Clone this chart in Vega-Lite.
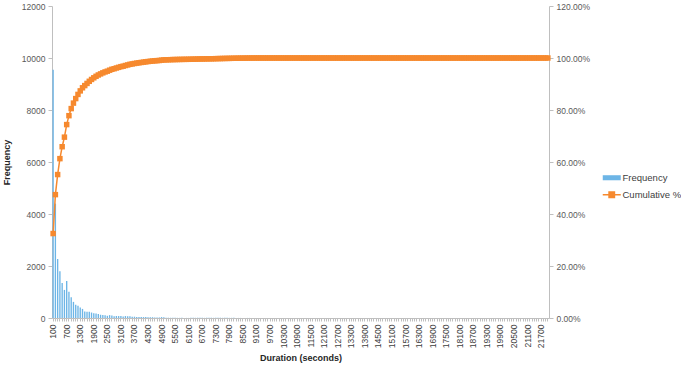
{
  "$schema": "https://vega.github.io/schema/vega-lite/v6.json",
  "width": 497,
  "height": 312,
  "autosize": {"type": "none"},
  "padding": {"left": 52, "top": 6, "right": 132, "bottom": 51},
  "background": "white",
  "config": {
    "view": {"stroke": null},
    "font": "Liberation Sans",
    "axis": {"labelColor": "#595959", "titleColor": "#262626", "domainColor": "#BFBFBF", "tickColor": "#BFBFBF", "grid": false, "labelFontSize": 8.5, "titleFontSize": 9, "titleFontWeight": "bold"},
    "legend": {"labelFontSize": 9.5, "labelColor": "#404040", "symbolSize": 324, "rowPadding": 6, "labelOffset": 6}
  },
  "data": {"values": [
    {"d":100,"f":9550,"c":0.3248},{"d":200,"f":4400,"c":0.4745},{"d":300,"f":2270,"c":0.5517},{"d":400,"f":1800,"c":0.6129},{"d":500,"f":1350,"c":0.6588},
    {"d":600,"f":1080,"c":0.6956},{"d":700,"f":1420,"c":0.7439},{"d":800,"f":1010,"c":0.7782},{"d":900,"f":800,"c":0.8054},{"d":1000,"f":620,"c":0.8265},
    {"d":1100,"f":510,"c":0.8439},{"d":1200,"f":470,"c":0.8599},{"d":1300,"f":400,"c":0.8735},{"d":1400,"f":350,"c":0.8854},{"d":1500,"f":250,"c":0.8939},
    {"d":1600,"f":245,"c":0.9022},{"d":1700,"f":240,"c":0.9104},{"d":1800,"f":210,"c":0.9175},{"d":1900,"f":185,"c":0.9238},{"d":2000,"f":170,"c":0.9296},
    {"d":2100,"f":150,"c":0.9347},{"d":2200,"f":125,"c":0.9389},{"d":2300,"f":115,"c":0.9429},{"d":2400,"f":105,"c":0.9464},{"d":2500,"f":85,"c":0.9493},
    {"d":2600,"f":110,"c":0.9531},{"d":2700,"f":100,"c":0.9565},{"d":2800,"f":70,"c":0.9588},{"d":2900,"f":80,"c":0.9616},{"d":3000,"f":75,"c":0.9641},
    {"d":3100,"f":75,"c":0.9667},{"d":3200,"f":55,"c":0.9685},{"d":3300,"f":75,"c":0.9711},{"d":3400,"f":65,"c":0.9733},{"d":3500,"f":70,"c":0.9757},
    {"d":3600,"f":45,"c":0.9772},{"d":3700,"f":50,"c":0.9789},{"d":3800,"f":40,"c":0.9803},{"d":3900,"f":40,"c":0.9816},{"d":4000,"f":38,"c":0.9829},
    {"d":4100,"f":36,"c":0.9841},{"d":4200,"f":34,"c":0.9853},{"d":4300,"f":32,"c":0.9864},{"d":4400,"f":30,"c":0.9874},{"d":4500,"f":30,"c":0.9884},
    {"d":4600,"f":22,"c":0.9892},{"d":4700,"f":20,"c":0.9899},{"d":4800,"f":20,"c":0.9905},{"d":4900,"f":35,"c":0.9917},{"d":5000,"f":25,"c":0.9926},
    {"d":5100,"f":12,"c":0.9930},{"d":5200,"f":10,"c":0.9933},{"d":5300,"f":8,"c":0.9936},{"d":5400,"f":8,"c":0.9939},{"d":5500,"f":6,"c":0.9941},
    {"d":5600,"f":6,"c":0.9943},{"d":5700,"f":5,"c":0.9945},{"d":5800,"f":5,"c":0.9946},{"d":5900,"f":4,"c":0.9948},{"d":6000,"f":4,"c":0.9949},
    {"d":6100,"f":3,"c":0.9950},{"d":6200,"f":8,"c":0.9953},{"d":6300,"f":7,"c":0.9955},{"d":6400,"f":7,"c":0.9957},{"d":6500,"f":6,"c":0.9960},
    {"d":6600,"f":6,"c":0.9962},{"d":6700,"f":6,"c":0.9964},{"d":6800,"f":5,"c":0.9965},{"d":6900,"f":5,"c":0.9967},{"d":7000,"f":5,"c":0.9969},
    {"d":7100,"f":5,"c":0.9970},{"d":7200,"f":6,"c":0.9972},{"d":7300,"f":7,"c":0.9975},{"d":7400,"f":6,"c":0.9977},{"d":7500,"f":7,"c":0.9979},
    {"d":7600,"f":6,"c":0.9981},{"d":7700,"f":5,"c":0.9983},{"d":7800,"f":5,"c":0.9985},{"d":7900,"f":5,"c":0.9986},{"d":8000,"f":6,"c":0.9988},
    {"d":8100,"f":5,"c":0.9990},{"d":8200,"f":4,"c":0.9991},{"d":8300,"f":3,"c":0.9993},{"d":8400,"f":3,"c":0.9994},{"d":8500,"f":3,"c":0.9995},
    {"d":8600,"f":4,"c":0.9996},{"d":8700,"f":3,"c":0.9997},{"d":8800,"f":3,"c":0.9998},{"d":8900,"f":3,"c":0.9999},{"d":9000,"f":3,"c":1.0},
    {"d":9100,"f":0,"c":1.0},{"d":9200,"f":0,"c":1.0},{"d":9300,"f":0,"c":1.0},{"d":9400,"f":0,"c":1.0},{"d":9500,"f":0,"c":1.0},
    {"d":9600,"f":0,"c":1.0},{"d":9700,"f":0,"c":1.0},{"d":9800,"f":0,"c":1.0},{"d":9900,"f":0,"c":1.0},{"d":10000,"f":0,"c":1.0},
    {"d":10100,"f":0,"c":1.0},{"d":10200,"f":0,"c":1.0},{"d":10300,"f":0,"c":1.0},{"d":10400,"f":0,"c":1.0},{"d":10500,"f":0,"c":1.0},
    {"d":10600,"f":0,"c":1.0},{"d":10700,"f":0,"c":1.0},{"d":10800,"f":0,"c":1.0},{"d":10900,"f":0,"c":1.0},{"d":11000,"f":0,"c":1.0},
    {"d":11100,"f":0,"c":1.0},{"d":11200,"f":0,"c":1.0},{"d":11300,"f":0,"c":1.0},{"d":11400,"f":0,"c":1.0},{"d":11500,"f":0,"c":1.0},
    {"d":11600,"f":0,"c":1.0},{"d":11700,"f":0,"c":1.0},{"d":11800,"f":0,"c":1.0},{"d":11900,"f":0,"c":1.0},{"d":12000,"f":0,"c":1.0},
    {"d":12100,"f":0,"c":1.0},{"d":12200,"f":0,"c":1.0},{"d":12300,"f":0,"c":1.0},{"d":12400,"f":0,"c":1.0},{"d":12500,"f":0,"c":1.0},
    {"d":12600,"f":0,"c":1.0},{"d":12700,"f":0,"c":1.0},{"d":12800,"f":0,"c":1.0},{"d":12900,"f":0,"c":1.0},{"d":13000,"f":0,"c":1.0},
    {"d":13100,"f":0,"c":1.0},{"d":13200,"f":0,"c":1.0},{"d":13300,"f":0,"c":1.0},{"d":13400,"f":0,"c":1.0},{"d":13500,"f":0,"c":1.0},
    {"d":13600,"f":0,"c":1.0},{"d":13700,"f":0,"c":1.0},{"d":13800,"f":0,"c":1.0},{"d":13900,"f":0,"c":1.0},{"d":14000,"f":0,"c":1.0},
    {"d":14100,"f":0,"c":1.0},{"d":14200,"f":0,"c":1.0},{"d":14300,"f":0,"c":1.0},{"d":14400,"f":0,"c":1.0},{"d":14500,"f":0,"c":1.0},
    {"d":14600,"f":0,"c":1.0},{"d":14700,"f":0,"c":1.0},{"d":14800,"f":0,"c":1.0},{"d":14900,"f":0,"c":1.0},{"d":15000,"f":0,"c":1.0},
    {"d":15100,"f":0,"c":1.0},{"d":15200,"f":0,"c":1.0},{"d":15300,"f":0,"c":1.0},{"d":15400,"f":0,"c":1.0},{"d":15500,"f":0,"c":1.0},
    {"d":15600,"f":0,"c":1.0},{"d":15700,"f":0,"c":1.0},{"d":15800,"f":0,"c":1.0},{"d":15900,"f":0,"c":1.0},{"d":16000,"f":0,"c":1.0},
    {"d":16100,"f":0,"c":1.0},{"d":16200,"f":0,"c":1.0},{"d":16300,"f":0,"c":1.0},{"d":16400,"f":0,"c":1.0},{"d":16500,"f":0,"c":1.0},
    {"d":16600,"f":0,"c":1.0},{"d":16700,"f":0,"c":1.0},{"d":16800,"f":0,"c":1.0},{"d":16900,"f":0,"c":1.0},{"d":17000,"f":0,"c":1.0},
    {"d":17100,"f":0,"c":1.0},{"d":17200,"f":0,"c":1.0},{"d":17300,"f":0,"c":1.0},{"d":17400,"f":0,"c":1.0},{"d":17500,"f":0,"c":1.0},
    {"d":17600,"f":0,"c":1.0},{"d":17700,"f":0,"c":1.0},{"d":17800,"f":0,"c":1.0},{"d":17900,"f":0,"c":1.0},{"d":18000,"f":0,"c":1.0},
    {"d":18100,"f":0,"c":1.0},{"d":18200,"f":0,"c":1.0},{"d":18300,"f":0,"c":1.0},{"d":18400,"f":0,"c":1.0},{"d":18500,"f":0,"c":1.0},
    {"d":18600,"f":0,"c":1.0},{"d":18700,"f":0,"c":1.0},{"d":18800,"f":0,"c":1.0},{"d":18900,"f":0,"c":1.0},{"d":19000,"f":0,"c":1.0},
    {"d":19100,"f":0,"c":1.0},{"d":19200,"f":0,"c":1.0},{"d":19300,"f":0,"c":1.0},{"d":19400,"f":0,"c":1.0},{"d":19500,"f":0,"c":1.0},
    {"d":19600,"f":0,"c":1.0},{"d":19700,"f":0,"c":1.0},{"d":19800,"f":0,"c":1.0},{"d":19900,"f":0,"c":1.0},{"d":20000,"f":0,"c":1.0},
    {"d":20100,"f":0,"c":1.0},{"d":20200,"f":0,"c":1.0},{"d":20300,"f":0,"c":1.0},{"d":20400,"f":0,"c":1.0},{"d":20500,"f":0,"c":1.0},
    {"d":20600,"f":0,"c":1.0},{"d":20700,"f":0,"c":1.0},{"d":20800,"f":0,"c":1.0},{"d":20900,"f":0,"c":1.0},{"d":21000,"f":0,"c":1.0},
    {"d":21100,"f":0,"c":1.0},{"d":21200,"f":0,"c":1.0},{"d":21300,"f":0,"c":1.0},{"d":21400,"f":0,"c":1.0},{"d":21500,"f":0,"c":1.0},
    {"d":21600,"f":0,"c":1.0},{"d":21700,"f":0,"c":1.0},{"d":21800,"f":0,"c":1.0},{"d":21900,"f":0,"c":1.0},{"d":22000,"f":0,"c":1.0}
  ]},
  "encoding": {
    "x": {
      "field": "d", "type": "ordinal", "sort": "ascending",
      "scale": {"paddingInner": 0.4, "paddingOuter": 0.2},
      "axis": {
        "title": "Duration (seconds)", "titlePadding": 6,
        "labelAngle": -90, "labelOverlap": false, "labelPadding": 3,
        "labelExpr": "(datum.value - 100) % 600 == 0 ? datum.label : ''",
        "tickSize": 3, "labelColor": "#404040"
      }
    }
  },
  "layer": [
    {
      "mark": {"type": "bar"},
      "encoding": {
        "y": {
          "field": "f", "type": "quantitative",
          "scale": {"domain": [0, 12000], "nice": false},
          "axis": {"title": "Frequency", "values": [0, 2000, 4000, 6000, 8000, 10000, 12000], "format": "d", "tickSize": 4, "labelPadding": 3, "titlePadding": 10}
        },
        "color": {
          "datum": "Frequency", "type": "nominal",
          "scale": {"domain": ["Frequency", "Cumulative %"], "range": ["#6DB5E6", "#F6892E"]},
          "legend": {
            "title": null, "orient": "none", "legendX": 555, "legendY": 167,
            "encode": {
              "symbols": {
                "update": {
                  "shape": {"signal": "datum.value === 'Frequency' ? 'M-1,-0.28H1V0.28H-1Z' : 'M-1,0H1M-0.3,-0.3H0.3V0.3H-0.3Z'"},
                  "fill": {"signal": "datum.value === 'Frequency' ? '#3C9DDB' : '#F6892E'"},
                  "stroke": {"signal": "datum.value === 'Frequency' ? '#3C9DDB' : '#F6892E'"},
                  "strokeWidth": {"signal": "datum.value === 'Frequency' ? 0 : 1.5"},
                  "opacity": {"value": 1}
                }
              }
            }
          }
        }
      }
    },
    {
      "mark": {"type": "line", "strokeWidth": 1.5, "point": {"shape": "square", "size": 30, "filled": true, "opacity": 1}},
      "encoding": {
        "y": {
          "field": "c", "type": "quantitative",
          "scale": {"domain": [0, 1.2], "nice": false},
          "axis": {"orient": "right", "title": null, "values": [0, 0.2, 0.4, 0.6, 0.8, 1.0, 1.2], "format": ".2%", "tickSize": 4, "labelPadding": 3}
        },
        "color": {"datum": "Cumulative %", "type": "nominal"}
      }
    }
  ],
  "resolve": {"scale": {"y": "independent"}}
}
